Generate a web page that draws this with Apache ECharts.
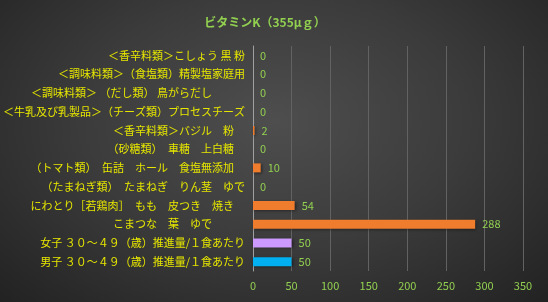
<!DOCTYPE html>
<html>
<head>
<meta charset="utf-8">
<script src="https://cdn.jsdelivr.net/npm/echarts@6/dist/echarts.min.js"></script>
<style>
html,body{margin:0;padding:0;}
body{width:548px;height:302px;background:radial-gradient(ellipse at 50% 40%, #4e4e4e 0%, #3b3b3b 50%, #222222 100%);}
#c{width:548px;height:302px;}
</style>
</head>
<body>
<div id="c"></div>
<script>
const categories = [
  "＜香辛料類＞こしょう 黒 粉",
  "＜調味料類＞（食塩類）精製塩家庭用",
  "＜調味料類＞ （だし類） 鳥がらだし　　　",
  "＜牛乳及び乳製品＞（チーズ類）プロセスチーズ",
  "＜香辛料類＞バジル　粉　",
  "（砂糖類）　車糖　上白糖　",
  "（トマト類）　缶詰　ホール　食塩無添加　",
  "（たまねぎ類）　たまねぎ　りん茎　ゆで",
  "にわとり［若鶏肉］　もも　皮つき　焼き　",
  "こまつな　葉　ゆで　　　",
  "女子 ３０～４９（歳）推進量/１食あたり",
  "男子 ３０～４９（歳）推進量/１食あたり"
];
const values = [0, 0, 0, 0, 2, 0, 10, 0, 54, 288, 50, 50];
const barColors = ["#F07C2E","#F07C2E","#F07C2E","#F07C2E","#F07C2E","#F07C2E","#F07C2E","#F07C2E","#F07C2E","#F07C2E","#CC99FF","#00B0F0"];
const xTicks = { min: 0, max: 350, interval: 50 };
const titleText = "ビタミンK（355μｇ）";

const chart = echarts.init(document.getElementById('c'), null, {renderer:'canvas'});
const font = "'Noto Sans CJK JP', sans-serif";
chart.setOption({
  backgroundColor: 'transparent',
  animation: false,
  title: {
    text: titleText, left: 260, top: 11, textAlign: 'center',
    textStyle: { color: '#92D050', fontSize: 12, fontWeight: 'bold', fontFamily: font }
  },
  grid: { left: 253, right: 25, top: 46, bottom: 31, containLabel: false },
  xAxis: {
    type: 'value', min: xTicks.min, max: xTicks.max, interval: xTicks.interval,
    axisLine: { show: false }, axisTick: { show: false },
    axisLabel: { color: '#92D050', fontSize: 11, fontFamily: font, margin: 9 },
    splitLine: { show: true, lineStyle: { color: '#626262', width: 1 } }
  },
  yAxis: {
    type: 'category', data: categories, inverse: true,
    axisLine: { show: true, lineStyle: { color: '#a0a0a0', width: 1 } },
    axisTick: { show: false },
    axisLabel: { color: '#E6E600', fontSize: 11, fontFamily: font, margin: 8 }
  },
  series: [{
    type: 'bar',
    data: values.map((v, i) => ({ value: v, itemStyle: { color: barColors[i] } })),
    barWidth: 9,
    itemStyle: { shadowColor: 'rgba(0,0,0,0.5)', shadowBlur: 3, shadowOffsetX: 1, shadowOffsetY: 1 },
    label: { show: true, position: 'right', distance: 7, color: '#92D050', fontSize: 11, fontFamily: font }
  }]
});
</script>
</body>
</html>
